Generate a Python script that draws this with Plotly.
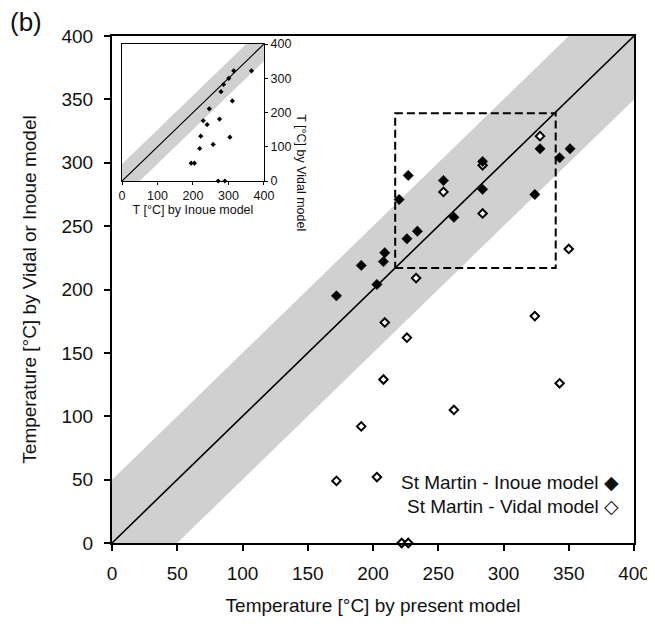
import plotly.graph_objects as go

# ---------------- data ----------------
# Main panel: present model temperature (x) vs Inoue / Vidal model temperature (y)
inoue_x = [172, 191, 203, 208, 209, 220, 227, 226, 234, 254, 262, 284, 284, 324, 328, 343, 351]
inoue_y = [195, 219, 204, 222, 229, 271, 290, 240, 246, 286, 257, 301, 279, 275, 311, 304, 311]
vidal_x = [172, 191, 203, 208, 209, 222, 226, 227, 233, 254, 262, 284, 284, 324, 328, 343, 350]
vidal_y = [49, 92, 52, 129, 174, 0, 162, 0, 209, 277, 105, 298, 260, 179, 321, 126, 232]

# Inset: Inoue model (x) vs Vidal model (y)
inset_x = [195, 204, 219, 222, 229, 240, 246, 257, 271, 290, 275, 279, 286, 301, 304, 311, 315, 365]
inset_y = [52, 52, 95, 131, 176, 165, 211, 107, 0, 0, 181, 261, 282, 300, 128, 234, 322, 322]

axis_range = [0, 400]
band_half = 50              # +/- 50 degC agreement band
zoom_box_x = [217, 340]
zoom_box_y = [217, 339]

main_ticks = [0, 50, 100, 150, 200, 250, 300, 350, 400]
inset_ticks = [0, 100, 200, 300, 400]

FONT = "Liberation Sans, Arial, sans-serif"
BAND = "#d0d0d0"
INK = "#111111"

lo, hi = axis_range
band_x = [lo, hi - band_half, hi, hi, lo + band_half, lo]
band_y = [lo + band_half, hi, hi, hi - band_half, lo, lo]

fig = go.Figure()

# ----- main panel -----
fig.add_trace(go.Scatter(x=band_x, y=band_y, fill="toself", fillcolor=BAND,
                         line=dict(width=0), mode="lines", hoverinfo="skip",
                         showlegend=False, xaxis="x", yaxis="y"))
fig.add_trace(go.Scatter(x=axis_range, y=axis_range, mode="lines",
                         line=dict(color="black", width=1.6), showlegend=False,
                         xaxis="x", yaxis="y"))
fig.add_trace(go.Scatter(x=vidal_x, y=vidal_y, mode="markers", name="St Martin - Vidal model",
                         marker=dict(symbol="diamond", size=6.5, color="white",
                                     line=dict(color="black", width=2)),
                         showlegend=False, cliponaxis=False, xaxis="x", yaxis="y"))
fig.add_trace(go.Scatter(x=inoue_x, y=inoue_y, mode="markers", name="St Martin - Inoue model",
                         marker=dict(symbol="diamond", size=8, color="black",
                                     line=dict(color="black", width=0.5)),
                         showlegend=False, cliponaxis=False, xaxis="x", yaxis="y"))

# ----- inset -----
fig.add_trace(go.Scatter(x=band_x, y=band_y, fill="toself", fillcolor=BAND,
                         line=dict(width=0), mode="lines", hoverinfo="skip",
                         showlegend=False, xaxis="x2", yaxis="y2"))
fig.add_trace(go.Scatter(x=axis_range, y=axis_range, mode="lines",
                         line=dict(color="black", width=1.2), showlegend=False,
                         xaxis="x2", yaxis="y2"))
fig.add_trace(go.Scatter(x=inset_x, y=inset_y, mode="markers",
                         marker=dict(symbol="diamond", size=4, color="black"),
                         showlegend=False, cliponaxis=False, xaxis="x2", yaxis="y2"))

main_axis = dict(range=axis_range, tickvals=main_ticks, ticks="outside", ticklen=6,
                 tickwidth=1.5, tickcolor="black", showline=True, linecolor="black",
                 linewidth=2, mirror=True, showgrid=False, zeroline=False,
                 tickfont=dict(family=FONT, size=19, color=INK))

fig.update_layout(
    width=655, height=629,
    margin=dict(l=104, r=29, t=28, b=94),
    paper_bgcolor="white", plot_bgcolor="white",
    font=dict(family=FONT, color=INK),
    xaxis=dict(**main_axis, domain=[0, 1], anchor="y", ticklabelstandoff=6,
               title=dict(text="Temperature [°C] by present model",
                          font=dict(family=FONT, size=19, color=INK), standoff=16)),
    yaxis=dict(**main_axis, domain=[0, 1], anchor="x", ticklabelstandoff=7,
               title=dict(text="Temperature [°C] by Vidal or Inoue model",
                          font=dict(family=FONT, size=19, color=INK), standoff=20)),
    xaxis2=dict(range=axis_range, tickvals=inset_ticks, domain=[0.0192, 0.291], anchor="y2",
                ticks="outside", ticklen=3, tickcolor="black", showline=True,
                linecolor="black", linewidth=1.2, mirror=True, showgrid=False, zeroline=False,
                tickfont=dict(family=FONT, size=12.5, color=INK),
                title=dict(text="T [°C] by Inoue model",
                           font=dict(family=FONT, size=12.5, color=INK), standoff=3)),
    yaxis2=dict(range=axis_range, tickvals=inset_ticks, domain=[0.714, 0.984], anchor="x2",
                side="right", ticks="outside", ticklen=3, tickcolor="black", showline=True,
                linecolor="black", linewidth=1.2, mirror=True, showgrid=False, zeroline=False,
                tickfont=dict(family=FONT, size=12.5, color=INK)),
)

# inset background (white) and the dashed zoom box
fig.add_shape(type="rect", xref="x2 domain", yref="y2 domain", x0=0, x1=1, y0=0, y1=1,
              fillcolor="white", line=dict(width=0), layer="below")
fig.add_shape(type="rect", xref="x", yref="y", x0=zoom_box_x[0], x1=zoom_box_x[1],
              y0=zoom_box_y[0], y1=zoom_box_y[1],
              line=dict(color="black", width=2, dash="8px,4px"))

# inset right-hand title (reads top to bottom)
fig.add_annotation(text="T [°C] by Vidal model", xref="paper", yref="paper",
                   x=0.291, y=0.849, xshift=28, textangle=90, showarrow=False,
                   font=dict(family=FONT, size=12.5, color=INK))

# legend-like labels at bottom right (symbol after the text)
fig.add_annotation(text="St Martin - Inoue model ◆", xref="paper", yref="paper",
                   x=0.976, y=0.0947, xanchor="right", showarrow=False,
                   font=dict(family=FONT, size=19, color=INK))
fig.add_annotation(text="St Martin - Vidal model ◇", xref="paper", yref="paper",
                   x=0.976, y=0.0473, xanchor="right", showarrow=False,
                   font=dict(family=FONT, size=19, color=INK))

# panel label
fig.add_annotation(text="(b)", xref="paper", yref="paper", x=-0.199, y=1.0276,
                   xanchor="left", yanchor="middle", showarrow=False,
                   font=dict(family=FONT, size=26, color=INK))

fig.write_html("out.html")
